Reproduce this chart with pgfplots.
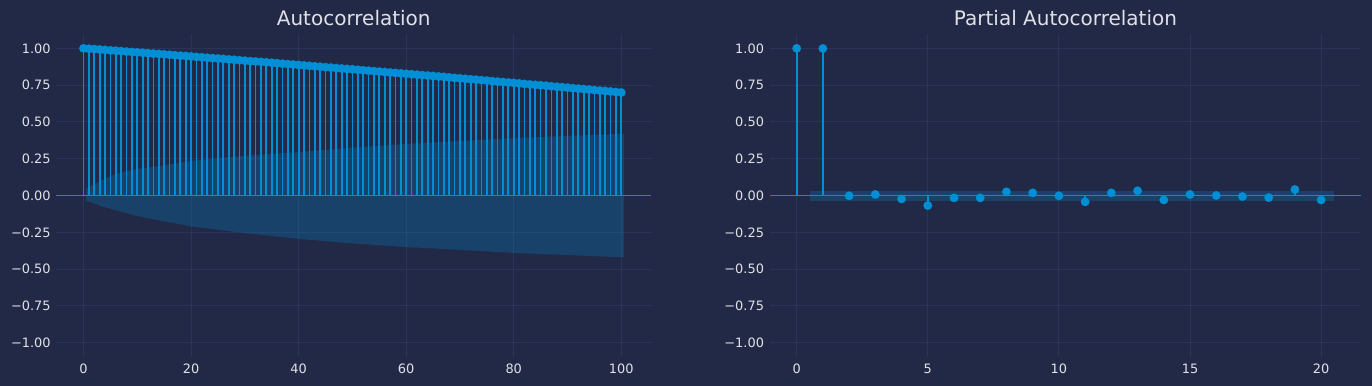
\documentclass[border=0pt]{standalone}
\usepackage{pgfplots}
\pgfplotsset{compat=1.18}
\usepackage{fontspec}
\setmainfont{DejaVu Sans}
\definecolor{bg}{HTML}{212946}
\definecolor{gridc}{HTML}{2A3459}
\definecolor{stem}{HTML}{008FD5}
\definecolor{txt}{HTML}{E0E0E6}
\pgfplotsset{
  cyber/.style={
    scale only axis,
    anchor=south west,
    height=233.1pt,
    ymin=-1.1, ymax=1.1,
    axis line style={draw=none},
    major tick length=0pt,
    grid=major,
    major grid style={draw=gridc, line width=0.75pt},
    ytick={-1,-0.75,-0.5,-0.25,0,0.25,0.5,0.75,1},
    yticklabels={−1.00,−0.75,−0.50,−0.25,0.00,0.25,0.50,0.75,1.00},
    tick label style={font=\fontsize{9.3}{11}\selectfont, text=txt, inner sep=0pt},
    yticklabel style={anchor=east, xshift=-4pt},
    xticklabel style={anchor=north, yshift=-4.6pt},
    every axis title shift=0pt,
    title style={font=\fontsize{14.4}{17}\selectfont, text=txt, at={(0.5,1)}, anchor=base, inner sep=0pt, yshift=6.2pt},
    clip=false,
  },
  stems/.style={ycomb, color=stem, line width=1.25pt, mark=*, mark size=3.1pt, mark options={fill=stem, draw=stem, line width=0.1pt}},
  zeroline/.style={color=stem, solid, no marks, line width=1.4pt},
}
\begin{document}
\begin{tikzpicture}
\fill[bg] (0,0) rectangle (987.84pt,277.92pt);
\path[use as bounding box] (0,0) rectangle (987.84pt,277.92pt);
\begin{axis}[cyber, at={(40.68pt,20.6pt)}, width=428.04pt,
  xmin=-5.025, xmax=105.525,
  xtick={0,20,40,60,80,100}, xticklabels={0,20,40,60,80,100},
  title={Autocorrelation}]
\addplot[fill=stem, fill opacity=0.25, draw=none] coordinates {
(0.5,0.045)(2,0.075)(4,0.115)(6,0.145)(8,0.165)(10,0.18)(15,0.205)(20,0.235)(30,0.27)(40,0.295)(50,0.325)(60,0.35)(70,0.37)(80,0.39)(90,0.405)(100.5,0.42)
(100.5,-0.42)(90,-0.405)(80,-0.39)(70,-0.37)(60,-0.35)(50,-0.325)(40,-0.295)(30,-0.255)(20,-0.21)(15,-0.175)(10,-0.14)(8,-0.12)(6,-0.1)(4,-0.08)(2,-0.055)(0.5,-0.034)
} -- cycle;
\addplot[stems] coordinates {
(0,1.000)(1,0.997)(2,0.995)(3,0.992)(4,0.989)(5,0.986)(6,0.984)(7,0.981)(8,0.978)(9,0.975)
(10,0.973)(11,0.970)(12,0.967)(13,0.964)(14,0.962)(15,0.959)(16,0.956)(17,0.953)(18,0.950)(19,0.948)
(20,0.945)(21,0.942)(22,0.939)(23,0.936)(24,0.933)(25,0.931)(26,0.928)(27,0.925)(28,0.922)(29,0.919)
(30,0.916)(31,0.913)(32,0.911)(33,0.908)(34,0.905)(35,0.902)(36,0.899)(37,0.896)(38,0.893)(39,0.890)
(40,0.887)(41,0.884)(42,0.881)(43,0.878)(44,0.875)(45,0.872)(46,0.869)(47,0.866)(48,0.863)(49,0.860)
(50,0.858)(51,0.854)(52,0.851)(53,0.848)(54,0.845)(55,0.842)(56,0.839)(57,0.836)(58,0.833)(59,0.830)
(60,0.827)(61,0.824)(62,0.821)(63,0.818)(64,0.815)(65,0.812)(66,0.809)(67,0.806)(68,0.803)(69,0.799)
(70,0.796)(71,0.793)(72,0.790)(73,0.787)(74,0.784)(75,0.781)(76,0.777)(77,0.774)(78,0.771)(79,0.768)
(80,0.765)(81,0.762)(82,0.758)(83,0.755)(84,0.752)(85,0.749)(86,0.746)(87,0.742)(88,0.739)(89,0.736)
(90,0.733)(91,0.729)(92,0.726)(93,0.723)(94,0.720)(95,0.716)(96,0.713)(97,0.710)(98,0.707)(99,0.703)
(100,0.700)
};
\addplot[zeroline] coordinates {(-5.025,0)(105.525,0)};
\end{axis}
\begin{axis}[cyber, at={(554.26pt,20.6pt)}, width=425.74pt,
  xmin=-1.025, xmax=21.525,
  xtick={0,5,10,15,20}, xticklabels={0,5,10,15,20},
  title={Partial Autocorrelation}]
\addplot[fill=stem, fill opacity=0.25, draw=none] coordinates {
(0.5,0.034)(20.5,0.034)(20.5,-0.034)(0.5,-0.034)
} -- cycle;
\addplot[stems] coordinates {
(0,1.000)(1,0.999)(2,-0.002)(3,0.007)(4,-0.023)(5,-0.068)(6,-0.016)(7,-0.016)(8,0.025)(9,0.018)
(10,-0.002)(11,-0.043)(12,0.018)(13,0.032)(14,-0.030)(15,0.007)(16,0.000)(17,-0.007)(18,-0.014)(19,0.041)
(20,-0.030)
};
\addplot[zeroline] coordinates {(-1.025,0)(21.525,0)};
\end{axis}
\end{tikzpicture}
\end{document}
